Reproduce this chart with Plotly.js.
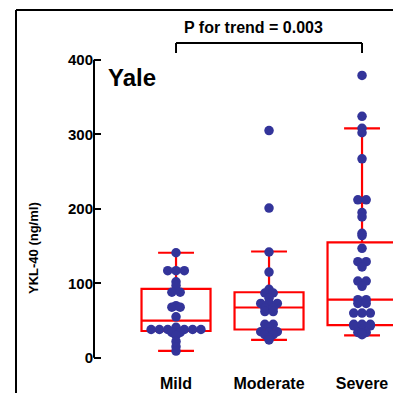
<!DOCTYPE html>
<html>
<head>
<meta charset="utf-8">
<script src="https://cdn.plot.ly/plotly-3.0.1.min.js"></script>
<style>
html,body{margin:0;padding:0;background:#fff;overflow:hidden;}
#chart{width:393px;height:393px;}
</style>
</head>
<body>
<div id="chart"></div>
<script>
// ---- data ----
const categories = ['Mild', 'Moderate', 'Severe'];
const mildValues = [141, 117, 117, 117, 102, 97, 88, 88, 70, 68, 68, 55, 41, 38, 38, 38, 38, 38, 38, 38, 34, 34, 30, 22, 15, 9];
const moderateValues = [305, 201, 142, 115, 92, 87, 87, 80, 73, 73, 73, 67, 67, 62, 62, 45, 45, 40, 35, 35, 35, 31, 31, 27, 24];
const severeValues = [379, 324, 308, 302, 267, 212, 212, 195, 189, 167, 164, 147, 129, 129, 122, 103, 103, 96, 78, 78, 73, 73, 60, 60, 60, 45, 45, 45, 43, 43, 43, 38, 36, 34, 34, 33, 32, 31];
const boxQ1 = [36, 38, 44];
const boxMedian = [50, 67.5, 78];
const boxQ3 = [92.6, 88, 155];
const whiskerLow = [9.4, 24, 30];
const whiskerHigh = [141, 142.7, 308];
const yTickVals = [0, 100, 200, 300, 400];
const yTickText = ['0', '100', '200', '300', '400'];
const pTrendText = 'P for trend = 0.003';
const cohortLabel = 'Yale';
const yTitleText = 'YKL-40 (ng/ml)';

// ---- layout constants ----
const W = 393, H = 393;
const M = {l: 94, r: 0, t: 56, b: 24};
const xRange = [-0.882, 2.333];
const yRange = [-15, 405];
const pxPerX = (W - M.l - M.r) / (xRange[1] - xRange[0]);
const dotGapPx = 8.3;

// symmetric dot-plot spread: equal values placed side by side, centred on the category
function spread(values, center) {
  const counts = {};
  values.forEach(v => { counts[v] = (counts[v] || 0) + 1; });
  const seen = {};
  const xs = [], ys = [];
  values.forEach(v => {
    const n = counts[v];
    const i = seen[v] || 0;
    seen[v] = i + 1;
    const off = (i - (n - 1) / 2) * dotGapPx / pxPerX;
    xs.push(center + off);
    ys.push(v);
  });
  return {xs, ys};
}

const groups = [mildValues, moderateValues, severeValues];
const ptsX = [], ptsY = [];
groups.forEach((vals, gi) => {
  const s = spread(vals, gi);
  ptsX.push(...s.xs); ptsY.push(...s.ys);
});

const red = '#ff0000';
const dotColor = '#33349a';

const traces = [
  {
    type: 'box',
    x: [0, 1, 2],
    q1: boxQ1, median: boxMedian, q3: boxQ3,
    lowerfence: whiskerLow, upperfence: whiskerHigh,
    boxpoints: false,
    width: 0.742,
    whiskerwidth: 0.52,
    line: {color: red, width: 2.2},
    fillcolor: 'rgba(0,0,0,0)',
    hoverinfo: 'skip',
    showlegend: false
  },
  {
    type: 'scatter',
    mode: 'markers',
    x: ptsX, y: ptsY,
    marker: {color: dotColor, size: 9.5, line: {width: 0}},
    cliponaxis: false,
    hoverinfo: 'skip',
    showlegend: false
  }
];

const fontFam = 'Liberation Sans, Arial, sans-serif';
const yp = px => (H - M.b - px) / (H - M.t - M.b);
const xp = px => (px - M.l) / (W - M.l - M.r);

const layout = {
  width: W, height: H,
  margin: M,
  paper_bgcolor: '#fff', plot_bgcolor: '#fff',
  showlegend: false,
  font: {family: fontFam, color: '#000'},
  xaxis: {
    range: xRange, showgrid: false, zeroline: false, showline: false,
    tickvals: [0, 1, 2], ticktext: categories,
    ticks: '', ticklen: 0,
    tickfont: {family: fontFam, size: 16, weight: 'bold', color: '#000'},
    ticklabelstandoff: 3,
    fixedrange: true
  },
  yaxis: {
    range: yRange, showgrid: false, zeroline: false, showline: false,
    tickvals: yTickVals, ticktext: yTickText,
    ticks: 'inside', ticklen: 7, tickwidth: 2, tickcolor: '#000',
    tickfont: {family: fontFam, size: 15, weight: 'bold', color: '#000'},
    fixedrange: true
  },
  shapes: [
    // y axis line from 0 to 400
    {type: 'line', xref: 'paper', yref: 'y', x0: 0, x1: 0, y0: yTickVals[0], y1: yTickVals[yTickVals.length - 1], line: {color: '#000', width: 2}},
    // outer frame (top and left)
    {type: 'line', xref: 'paper', yref: 'paper', x0: xp(16), x1: 1.1, y0: yp(10), y1: yp(10), line: {color: '#000', width: 2}},
    {type: 'line', xref: 'paper', yref: 'paper', x0: xp(16), x1: xp(16), y0: yp(10), y1: yp(400), line: {color: '#000', width: 2}},
    // trend bracket
    {type: 'line', xref: 'x', yref: 'paper', x0: 0, x1: 2, y0: yp(43), y1: yp(43), line: {color: '#000', width: 2}},
    {type: 'line', xref: 'x', yref: 'paper', x0: 0, x1: 0, y0: yp(43), y1: yp(53), line: {color: '#000', width: 2}},
    {type: 'line', xref: 'x', yref: 'paper', x0: 2, x1: 2, y0: yp(43), y1: yp(53), line: {color: '#000', width: 2}}
  ],
  annotations: [
    {xref: 'x', yref: 'paper', x: 0.828, y: yp(27), text: pTrendText, showarrow: false,
     xanchor: 'center', yanchor: 'middle', font: {family: fontFam, size: 16, weight: 'bold', color: '#000'}},
    {xref: 'paper', yref: 'paper', x: xp(132), y: yp(77), text: cohortLabel, showarrow: false,
     xanchor: 'center', yanchor: 'middle', font: {family: fontFam, size: 24, weight: 'bold', color: '#000'}},
    {xref: 'paper', yref: 'paper', x: xp(33), y: yp(248), text: yTitleText, showarrow: false, textangle: -90,
     xanchor: 'center', yanchor: 'middle', font: {family: fontFam, size: 13, weight: 'bold', color: '#000'}}
  ]
};

Plotly.newPlot('chart', traces, layout, {staticPlot: true, displayModeBar: false});
</script>
</body>
</html>
